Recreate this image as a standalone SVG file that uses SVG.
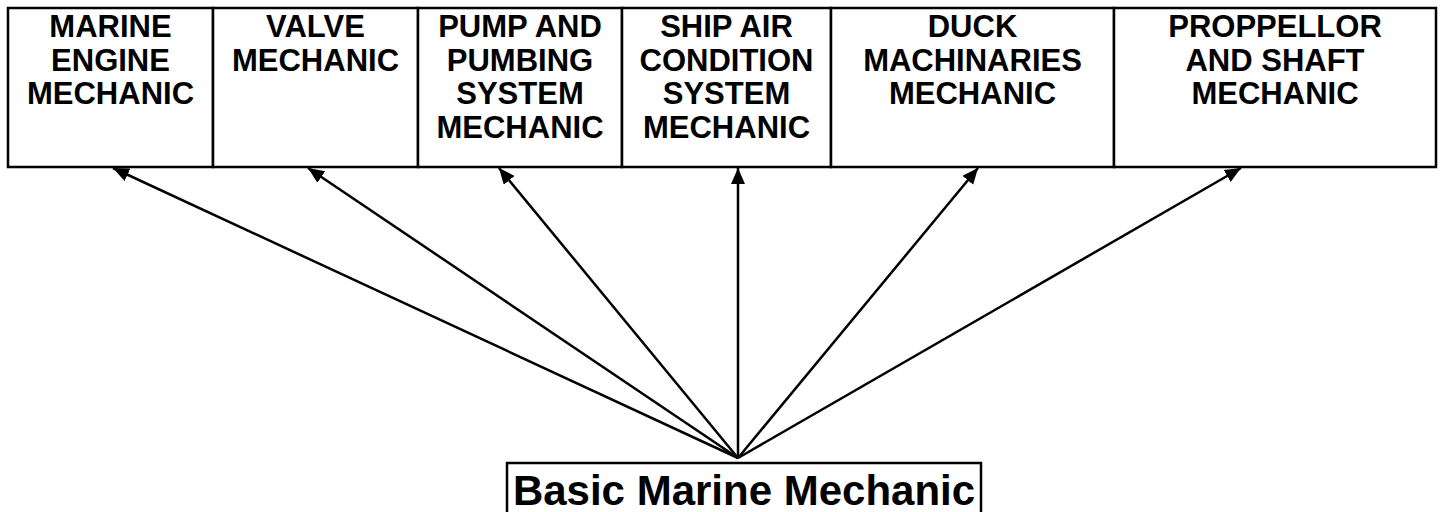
<svg xmlns="http://www.w3.org/2000/svg" width="1444" height="512" viewBox="0 0 1444 512">
<style>
.box{fill:#fff;stroke:#000;stroke-width:2.5}
.t{font-family:"Liberation Sans",Arial,sans-serif;font-weight:bold;font-size:31px;fill:#000;text-anchor:middle}
.b{font-family:"Liberation Sans",Arial,sans-serif;font-weight:bold;font-size:42px;fill:#000;text-anchor:middle}
.c{stroke:#000;stroke-width:2.5;fill:none;marker-end:url(#ah)}
</style>
<defs>
<marker id="ah" markerUnits="userSpaceOnUse" markerWidth="17" markerHeight="15" refX="16" refY="7" orient="auto" viewBox="0 0 17 15">
<path d="M0,0 L16,7 L0,14 z" fill="#000"/>
</marker>
</defs>
<rect width="1444" height="512" fill="#fff"/>
<g id="n1"><rect class="box" x="8" y="8" width="205" height="159"/>
<text class="t" x="110.5" y="37">MARINE</text><text class="t" x="110.5" y="70.5">ENGINE</text><text class="t" x="110.5" y="104">MECHANIC</text></g>
<g id="n2"><rect class="box" x="213" y="8" width="205" height="159"/>
<text class="t" x="315.5" y="37">VALVE</text><text class="t" x="315.5" y="70.5">MECHANIC</text></g>
<g id="n3"><rect class="box" x="418" y="8" width="204" height="159"/>
<text class="t" x="520" y="37">PUMP AND</text><text class="t" x="520" y="70.5">PUMBING</text><text class="t" x="520" y="104">SYSTEM</text><text class="t" x="520" y="137.5">MECHANIC</text></g>
<g id="n4"><rect class="box" x="622" y="8" width="209" height="159"/>
<text class="t" x="726.5" y="37">SHIP AIR</text><text class="t" x="726.5" y="70.5">CONDITION</text><text class="t" x="726.5" y="104">SYSTEM</text><text class="t" x="726.5" y="137.5">MECHANIC</text></g>
<g id="n5"><rect class="box" x="831" y="8" width="283" height="159"/>
<text class="t" x="972.5" y="37">DUCK</text><text class="t" x="972.5" y="70.5">MACHINARIES</text><text class="t" x="972.5" y="104">MECHANIC</text></g>
<g id="n6"><rect class="box" x="1114" y="8" width="322" height="159"/>
<text class="t" x="1275" y="37">PROPPELLOR</text><text class="t" x="1275" y="70.5">AND SHAFT</text><text class="t" x="1275" y="104">MECHANIC</text></g>
<g id="n0"><rect class="box" x="507" y="463" width="474" height="60"/>
<text class="b" x="744" y="505">Basic Marine Mechanic</text></g>
<g id="connectors">
<line class="c" x1="738" y1="458" x2="113" y2="168"/>
<line class="c" x1="738" y1="458" x2="308" y2="168"/>
<line class="c" x1="738" y1="458" x2="499" y2="168"/>
<line class="c" x1="738" y1="458" x2="738" y2="168"/>
<line class="c" x1="738" y1="458" x2="978" y2="168"/>
<line class="c" x1="738" y1="458" x2="1241" y2="168"/>
</g>
</svg>
